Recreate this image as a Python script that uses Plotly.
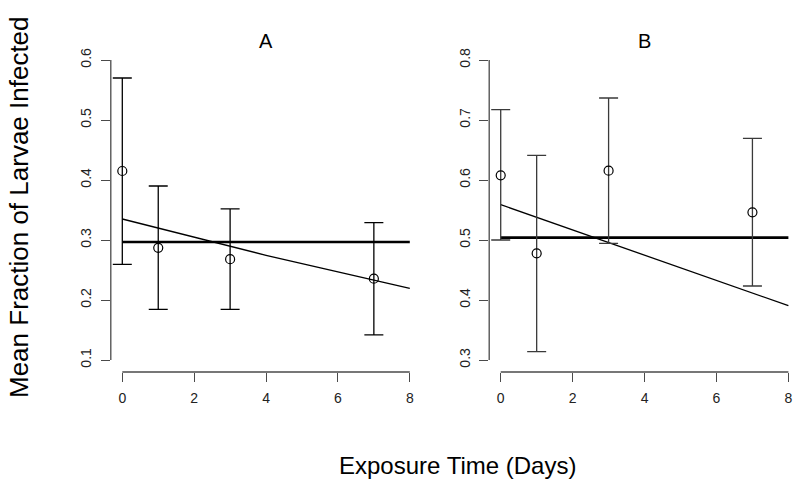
import plotly.graph_objects as go

# ---------------- data ----------------
days = [0, 1, 3, 7]

a_mean = [0.415, 0.287, 0.268, 0.2355]
a_upper = [0.570, 0.390, 0.352, 0.329]
a_lower = [0.2595, 0.1845, 0.1845, 0.142]
a_overall = 0.2967
a_fit_x = [0, 4, 8]
a_fit_y = [0.335, 0.2745, 0.2195]

b_mean = [0.6078, 0.4778, 0.6155, 0.5462]
b_upper = [0.7172, 0.6411, 0.7367, 0.6695]
b_lower = [0.500, 0.314, 0.4945, 0.4233]
b_overall = 0.5039
b_fit_x = [0, 8]
b_fit_y = [0.5589, 0.3905]

x_ticks = [0, 2, 4, 6, 8]
a_yticks = [0.1, 0.2, 0.3, 0.4, 0.5, 0.6]
b_yticks = [0.3, 0.4, 0.5, 0.6, 0.7, 0.8]
x_span = [0, 8]
titles = ["A", "B"]
x_title = "Exposure Time (Days)"
y_title = "Mean Fraction of Larvae Infected"

# ---------------- figure ----------------
W, H = 800, 484
fig = go.Figure()

AXCOL = "#4a4a4a"
FONT = "Liberation Sans, Arial, Helvetica, sans-serif"


def add_panel(xr, yr, mean, upper, lower, overall, fx, fy, ebcol):
    # overall mean (thick line)
    fig.add_trace(go.Scatter(x=x_span, y=[overall, overall], mode="lines",
                             line=dict(color="black", width=2.7),
                             xaxis=xr, yaxis=yr, hoverinfo="skip"))
    # fitted trend
    fig.add_trace(go.Scatter(x=fx, y=fy, mode="lines",
                             line=dict(color="black", width=1.3),
                             xaxis=xr, yaxis=yr, hoverinfo="skip"))
    # error bars + points
    fig.add_trace(go.Scatter(
        x=days, y=mean, mode="markers",
        marker=dict(symbol="circle-open", size=9, color="black",
                    line=dict(width=1.2, color="black")),
        error_y=dict(type="data", symmetric=False,
                     array=[u - m for u, m in zip(upper, mean)],
                     arrayminus=[m - l for m, l in zip(mean, lower)],
                     color=ebcol, thickness=1.3, width=9.5),
        xaxis=xr, yaxis=yr))


add_panel("x", "y", a_mean, a_upper, a_lower, a_overall, a_fit_x, a_fit_y, "black")
add_panel("x2", "y2", b_mean, b_upper, b_lower, b_overall, b_fit_x, b_fit_y, "#3a3a3a")

ydom = [(H - 372) / H, (H - 48) / H]
xdomA = [110.8 / W, 421.3 / W]
xdomB = [489.2 / W, 799.9 / W]

xcommon = dict(range=[-0.32, 8.32], tickvals=x_ticks, ticks="outside", ticklen=9,
               tickwidth=1, tickcolor=AXCOL, showgrid=False, zeroline=False,
               showline=False, automargin=False, ticklabelstandoff=4,
               tickfont=dict(family=FONT, size=14, color="#222"))
ycommon = dict(ticks="outside", ticklen=9, tickwidth=1, tickcolor=AXCOL,
               showgrid=False, zeroline=False, showline=False, automargin=False,
               tickangle=-90, ticklabelstandoff=4,
               tickfont=dict(family=FONT, size=14, color="#222"))

fig.update_layout(
    width=W, height=H,
    margin=dict(l=0, r=0, t=0, b=0),
    paper_bgcolor="white", plot_bgcolor="white",
    showlegend=False,
    xaxis=dict(domain=xdomA, anchor="y", **xcommon),
    yaxis=dict(domain=ydom, anchor="x", range=[0.08, 0.62], tickvals=a_yticks,
               ticktext=[f"{v:.1f}" for v in a_yticks], **ycommon),
    xaxis2=dict(domain=xdomB, anchor="y2", **xcommon),
    yaxis2=dict(domain=ydom, anchor="x2", range=[0.28, 0.82], tickvals=b_yticks,
                ticktext=[f"{v:.1f}" for v in b_yticks], **ycommon),
)

# R-style axis lines spanning first to last tick
for xr, yr, yt in [("x", "y", a_yticks), ("x2", "y2", b_yticks)]:
    fig.add_shape(type="line", xref=xr, yref=f"{yr} domain",
                  x0=x_ticks[0], x1=x_ticks[-1], y0=0, y1=0,
                  line=dict(color=AXCOL, width=1.3))
    fig.add_shape(type="line", xref=f"{xr} domain", yref=yr,
                  x0=0, x1=0, y0=yt[0], y1=yt[-1],
                  line=dict(color=AXCOL, width=1.3))

# panel titles
for dom, t in [(xdomA, titles[0]), (xdomB, titles[1])]:
    fig.add_annotation(x=(dom[0] + dom[1]) / 2, y=(H - 41) / H, xref="paper", yref="paper",
                       text=t, showarrow=False, font=dict(family=FONT, size=20, color="black"),
                       xanchor="center", yanchor="middle")

fig.add_annotation(x=457.5 / W, y=(H - 465) / H, xref="paper", yref="paper",
                   text=x_title, showarrow=False,
                   font=dict(family=FONT, size=24, color="black"),
                   xanchor="center", yanchor="middle")
fig.add_annotation(x=19 / W, y=(H - 207) / H, xref="paper", yref="paper",
                   text=y_title, showarrow=False, textangle=-90,
                   font=dict(family=FONT, size=26, color="black"),
                   xanchor="center", yanchor="middle")

fig.write_html("out.html", config={"displayModeBar": False},
               post_script="document.body.style.margin='0';document.body.style.padding='0';")
